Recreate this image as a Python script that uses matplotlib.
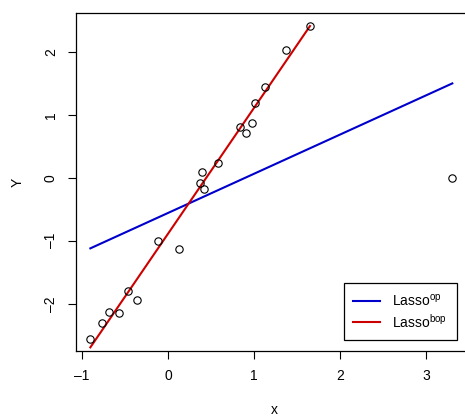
import numpy as np
import matplotlib
matplotlib.use("Agg")
import matplotlib.pyplot as plt

plt.rcParams['font.family'] = ['Liberation Sans', 'DejaVu Sans']
plt.rcParams['mathtext.fontset'] = 'custom'
plt.rcParams['mathtext.rm'] = 'Liberation Sans'

# observed points
x = [1.651, 1.376, 1.132, 1.016, 0.833, 0.981, 0.911, 0.585, 0.399, 0.376,
     0.415, 3.306, -0.112, 0.128, -0.469, -0.364, -0.686, -0.570, -0.771, -0.903]
y = [2.408, 2.032, 1.435, 1.190, 0.810, 0.863, 0.705, 0.233, 0.090, -0.079,
     -0.180, 0.000, -1.005, -1.132, -1.794, -1.946, -2.137, -2.143, -2.302, -2.560]

# fitted lines (intercept, slope)
op_fit = (-0.559, 0.622)
bop_fit = (-0.889, 1.997)
outlier_x = 3.306

xticks = [-1, 0, 1, 2, 3]
yticks = [-2, -1, 0, 1, 2]

fig = plt.figure(figsize=(4.65, 4.19), dpi=100)
ax = fig.add_axes([76 / 465, 68 / 419, 396 / 465, 337.7 / 419])

ax.plot(x, y, 'o', mfc='none', mec='black', ms=5.3, mew=0.8, zorder=3)

xs = np.array([min(x), max(x)])
ax.plot(xs, op_fit[0] + op_fit[1] * xs, color='#0000CD', lw=1.5,
        label=r'Lasso$^{\mathrm{op}}$')
inl = [v for v in x if v != outlier_x]
xs2 = np.array([min(inl), max(inl)])
ax.plot(xs2, bop_fit[0] + bop_fit[1] * xs2, color='#CD0000', lw=1.5,
        label=r'Lasso$^{\mathrm{bop}}$')

ax.set_xlim(-1.07, 3.535)
ax.set_ylim(-2.75, 2.61)
ax.set_xticks(xticks)
ax.set_yticks(yticks)
ax.set_xticklabels([str(t).replace('-', '\u2013') for t in xticks])
ax.set_yticklabels([str(t).replace('-', '\u2013') for t in yticks],
                   rotation=90, va='center')
ax.tick_params(length=6, width=0.8, labelsize=10, pad=7)
for s in ax.spines.values():
    s.set_linewidth(0.9)

ax.set_xlabel('x', fontsize=10, labelpad=14)
ax.set_ylabel('Y', fontsize=10, labelpad=14)

leg = ax.legend(loc='lower right', bbox_to_anchor=(0.962, 0.0326),
                borderaxespad=0, fontsize=10, fancybox=False,
                edgecolor='black', framealpha=1, handlelength=1.9,
                handletextpad=0.9, borderpad=0.7, labelspacing=0.25)
leg.get_frame().set_linewidth(0.9)

fig.savefig('out.png', dpi=100)
